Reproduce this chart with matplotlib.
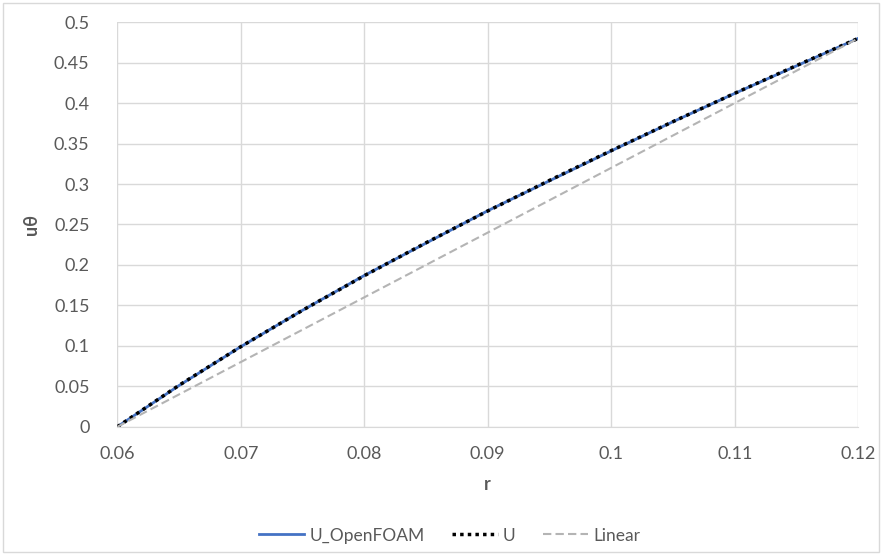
import numpy as np
import matplotlib.pyplot as plt

plt.rcParams['font.family'] = ['Lato', 'DejaVu Sans']

r = [0.06, 0.065, 0.07, 0.075, 0.08, 0.085, 0.09, 0.095, 0.1, 0.105, 0.11, 0.115, 0.12]
u_openfoam = [0.0, 0.051, 0.099, 0.144, 0.187, 0.227, 0.267, 0.304, 0.341, 0.377, 0.412, 0.446, 0.48]
u_exact = [0.0, 0.0513, 0.099, 0.144, 0.1867, 0.2274, 0.2667, 0.3045, 0.3413, 0.3771, 0.4121, 0.4464, 0.48]
u_linear = [0.0, 0.04, 0.08, 0.12, 0.16, 0.2, 0.24, 0.28, 0.32, 0.36, 0.4, 0.44, 0.48]

grey = "#595959"

fig = plt.figure(figsize=(8.82, 5.55), dpi=100)
ax = fig.add_axes([0.133, 0.231, 0.840, 0.729])

ax.plot(r, u_openfoam, color="#4472C4", lw=2.0, label="U_OpenFOAM")
ax.plot(r, u_exact, color="black", lw=2.5, ls=(0, (1, 1.2)), label="U")
ax.plot(r, u_linear, color="#B4B4B4", lw=1.5, ls=(0, (4, 2)), label="Linear")

ax.set_xlim(0.06, 0.12)
ax.set_ylim(0, 0.5)
ax.set_xticks(np.arange(0.06, 0.1201, 0.01))
ax.set_xticklabels(["0.06", "0.07", "0.08", "0.09", "0.1", "0.11", "0.12"])
ax.set_yticks(np.arange(0, 0.501, 0.05))
ax.set_yticklabels(["0", "0.05", "0.1", "0.15", "0.2", "0.25", "0.3", "0.35", "0.4", "0.45", "0.5"])
ax.tick_params(length=0, labelsize=13, colors=grey)
ax.tick_params(axis="x", pad=14)
ax.tick_params(axis="y", pad=20)
ax.grid(True, color="#D9D9D9", lw=1)
ax.set_axisbelow(True)
for s in ["top", "right", "left"]:
    ax.spines[s].set_visible(False)
ax.spines["bottom"].set_color("#D9D9D9")

ax.set_xlabel("r", fontsize=13, fontweight="bold", color=grey, labelpad=10)
ax.set_ylabel("uθ", fontsize=13, fontweight="bold", color=grey, labelpad=10)

fig.legend(loc="center", bbox_to_anchor=(0.51, 0.035), ncol=3, frameon=False,
           fontsize=12.5, labelcolor=grey, handlelength=2.6, handletextpad=0.3,
           columnspacing=1.6)

fig.patches.append(plt.Rectangle((0.003, 0.005), 0.994, 0.99, transform=fig.transFigure,
                                 fill=False, edgecolor="#D9D9D9", lw=1))

fig.savefig("out.png", dpi=100)
